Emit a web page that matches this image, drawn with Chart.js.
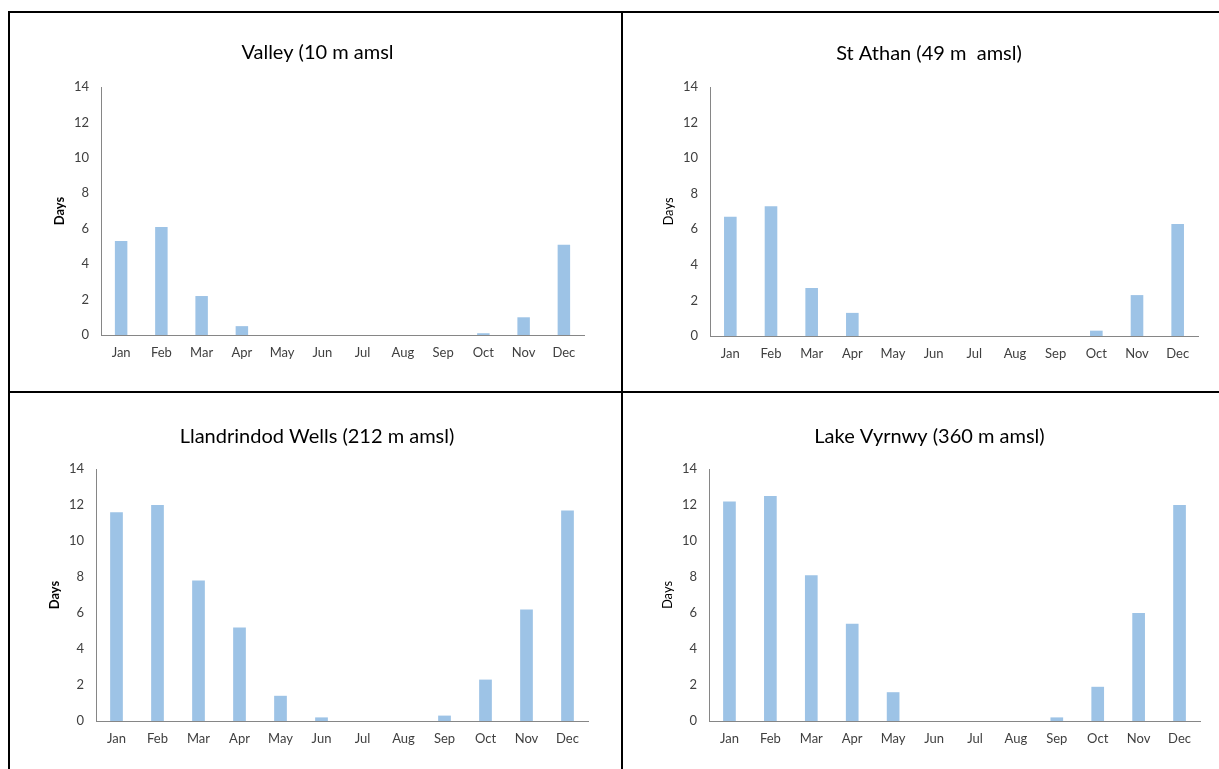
<!DOCTYPE html>
<html>
<head>
<meta charset="utf-8">
<script src="https://cdn.jsdelivr.net/npm/chart.js@4.4.1/dist/chart.umd.min.js"></script>
<style>
html,body{margin:0;padding:0;background:#fff;width:1219px;height:769px;overflow:hidden}
.line{position:absolute;background:#000}
canvas{position:absolute}
</style>
</head>
<body>

<div class="line" style="left:8px;top:11px;width:1211px;height:2px"></div>
<div class="line" style="left:8px;top:11px;width:2px;height:758px"></div>
<div class="line" style="left:621px;top:11px;width:2px;height:758px"></div>
<div class="line" style="left:8px;top:391px;width:1211px;height:2px"></div>

<canvas id="valley" width="610" height="377" style="left:10px;top:13px"></canvas>
<canvas id="athan" width="595" height="377" style="left:624px;top:13px"></canvas>
<canvas id="llandrindod" width="610" height="375" style="left:10px;top:394px"></canvas>
<canvas id="vyrnwy" width="595" height="375" style="left:624px;top:394px"></canvas>

<script>
const months=["Jan","Feb","Mar","Apr","May","Jun","Jul","Aug","Sep","Oct","Nov","Dec"]
const yTicks=[0,2,4,6,8,10,12,14]

const valleyDays=[5.3,6.1,2.2,0.5,0,0,0,0,0,0.1,1.0,5.1]
const athanDays=[6.7,7.3,2.7,1.3,0,0,0,0,0,0.3,2.3,6.3]
const llandrindodDays=[11.6,12.0,7.8,5.2,1.4,0.2,0,0,0.3,2.3,6.2,11.7]
const vyrnwyDays=[12.2,12.5,8.1,5.4,1.6,0,0,0,0.2,1.9,6.0,12.0]

const FONT="Lato"

// geometry in canvas px: plot left/right/top/bottom, title centre y
function drawPanel(id,title,values,boldDays,g){

const cv=document.getElementById(id)
const w=cv.width,h=cv.height
const yW=50,xH=30,tSize=20,tLine=tSize*1.2
const tTop=g.ty-tLine/2

new Chart(cv,{
type:"bar",
data:{
labels:months,
datasets:[{
data:values,
backgroundColor:"#9dc3e6",
barPercentage:0.31,
categoryPercentage:1
}]
},
options:{
responsive:false,
animation:false,
layout:{padding:{left:g.l-yW,right:w-g.r,top:0,bottom:h-g.b-xH}},
plugins:{
legend:{display:false},
tooltip:{enabled:false},
title:{
display:true,
text:title,
color:"#000",
font:{family:FONT,size:tSize,weight:"normal"},
padding:{top:tTop,bottom:g.t-tTop-tLine}
}
},
scales:{
x:{
grid:{display:false,drawTicks:false},
border:{display:true,color:"#868686",width:1},
ticks:{color:"#404040",font:{family:FONT,size:13},padding:10,maxRotation:0},
afterFit:s=>{s.height=xH}
},
y:{
min:0,
max:14,
afterBuildTicks:s=>{s.ticks=yTicks.map(v=>({value:v}))},
grid:{display:false,drawTicks:false},
border:{display:true,color:"#868686",width:1},
ticks:{color:"#404040",font:{family:FONT,size:13},padding:12},
title:{
display:true,
text:"Days",
color:"#000",
font:{family:FONT,size:13,weight:boldDays?"bold":"normal"},
padding:{top:1,bottom:0}
},
afterFit:s=>{s.width=yW}
}
}
}
})

}

drawPanel("valley","Valley (10 m amsl",valleyDays,true,{l:91,r:574,t:74,b:322,ty:40})
drawPanel("athan","St Athan (49 m  amsl)",athanDays,false,{l:86,r:574,t:74,b:323,ty:41})
drawPanel("llandrindod","Llandrindod Wells (212 m amsl)",llandrindodDays,true,{l:86,r:578,t:75,b:327,ty:43})
drawPanel("vyrnwy","Lake Vyrnwy (360 m amsl)",vyrnwyDays,false,{l:85,r:576,t:75,b:327,ty:43})
</script>
</body>
</html>
